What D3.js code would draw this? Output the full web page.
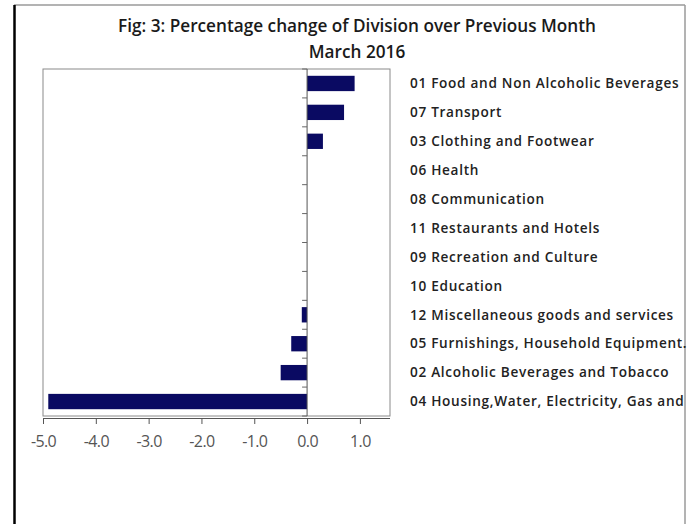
<!DOCTYPE html>
<html lang="en">
<head>
<meta charset="UTF-8">
<title>Fig 3</title>
<script src="https://d3js.org/d3.v7.min.js"></script>
<style>
  body { margin: 0; background: #fff; }
  svg text { font-family: "Open Sans", "Noto Sans", sans-serif; }
  .title { font-weight: 600; font-size: 17.2px; fill: #1a1a1a; }
  .cat { font-weight: 600; font-size: 13.6px; fill: #222; letter-spacing: 0.7px; }
</style>
</head>
<body>
<div id="chart"></div>
<script>
  // categories top to bottom, values in %
  const categories = [
    "01 Food and Non Alcoholic Beverages",
    "07 Transport",
    "03 Clothing and Footwear",
    "06 Health",
    "08 Communication",
    "11 Restaurants and Hotels",
    "09 Recreation and Culture",
    "10 Education",
    "12 Miscellaneous goods and services",
    "05 Furnishings, Household Equipment.",
    "02 Alcoholic Beverages and Tobacco",
    "04 Housing,Water, Electricity, Gas and"
  ];
  const values = [0.9, 0.7, 0.3, 0.0, 0.0, 0.0, 0.0, 0.0, -0.1, -0.3, -0.5, -4.9];
  const xTicks = [-5, -4, -3, -2, -1, 0, 1];

  const W = 695, H = 524;
  const plot = { left: 43, right: 390, top: 69, bottom: 416 };

  const svg = d3.select("#chart").append("svg")
    .attr("width", W).attr("height", H);

  // outer frame
  svg.append("line").attr("x1", 14).attr("x2", 685).attr("y1", 5).attr("y2", 5)
    .attr("stroke", "#9a9a9a").attr("stroke-width", 1.5);
  svg.append("line").attr("x1", 685).attr("x2", 685).attr("y1", 5).attr("y2", H)
    .attr("stroke", "#9a9a9a").attr("stroke-width", 1.5);
  svg.append("line").attr("x1", 14.5).attr("x2", 14.5).attr("y1", 5).attr("y2", H)
    .attr("stroke", "#000").attr("stroke-width", 2.5);

  // title
  svg.append("text").attr("class", "title").attr("x", 357).attr("y", 32)
    .attr("text-anchor", "middle")
    .text("Fig: 3: Percentage change of Division over Previous Month");
  svg.append("text").attr("class", "title").attr("x", 357).attr("y", 58)
    .attr("text-anchor", "middle").text("March 2016");

  const x = d3.scaleLinear().domain([-5, 1.57]).range([plot.left, plot.right]);
  const y = d3.scaleBand().domain(categories).range([plot.top, plot.bottom]).paddingInner(0.47).paddingOuter(0.235);

  // plot area frame
  svg.append("rect")
    .attr("x", plot.left).attr("y", plot.top)
    .attr("width", plot.right - plot.left).attr("height", plot.bottom - plot.top)
    .attr("fill", "none").attr("stroke", "#8a8a8a").attr("stroke-width", 1);

  // bars
  svg.selectAll(".bar").data(values).enter().append("rect")
    .attr("class", "bar")
    .attr("x", d => x(Math.min(0, d)))
    .attr("y", (d, i) => y(categories[i]))
    .attr("width", d => Math.abs(x(d) - x(0)))
    .attr("height", y.bandwidth())
    .attr("fill", "#0a0a62");

  // category axis at zero, ticks at band boundaries
  svg.append("line").attr("x1", x(0)).attr("x2", x(0))
    .attr("y1", plot.top).attr("y2", plot.bottom)
    .attr("stroke", "#555").attr("stroke-width", 1);
  const step = (plot.bottom - plot.top) / categories.length;
  svg.selectAll(".ctick").data(d3.range(categories.length + 1)).enter().append("line")
    .attr("x1", x(0) - 5).attr("x2", x(0))
    .attr("y1", d => plot.top + d * step).attr("y2", d => plot.top + d * step)
    .attr("stroke", "#666").attr("stroke-width", 1);

  // category labels on the right
  svg.selectAll(".cat").data(categories).enter().append("text")
    .attr("class", "cat")
    .attr("x", 410)
    .attr("y", d => y(d) + y.bandwidth() / 2)
    .attr("dy", "0.35em")
    .text(d => d);

  // value axis
  const fmt = d3.format(".1f");
  const xAxis = d3.axisBottom(x).tickValues(xTicks).tickSize(6)
    .tickFormat(d => fmt(d).replace("\u2212", "-"));
  const gx = svg.append("g").attr("transform", `translate(0,${plot.bottom + 2})`).call(xAxis);
  gx.attr("font-size", 16).attr("font-family", "'Open Sans', sans-serif");
  gx.select(".domain").attr("stroke", "#555").attr("d", `M${plot.left},0.5H${plot.right}`);
  gx.selectAll(".tick line").attr("stroke", "#555");
  gx.selectAll(".tick text").attr("y", 16).attr("dy", "0.8em").attr("fill", "#555")
    .style("letter-spacing", "-0.6px");
</script>
</body>
</html>
